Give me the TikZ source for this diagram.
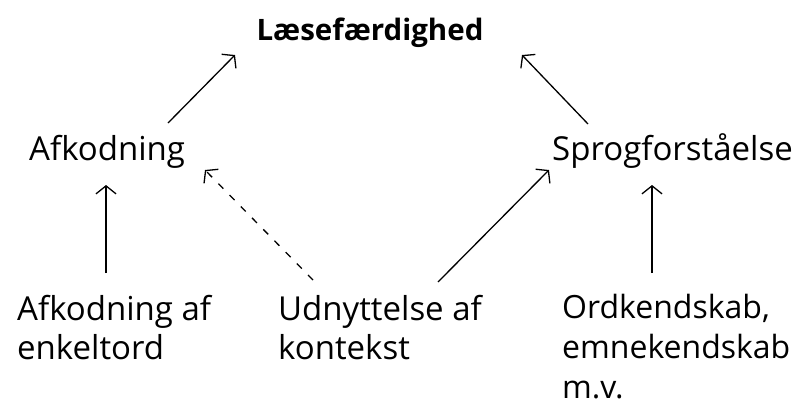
\documentclass[tikz,border=0pt]{standalone}
\usepackage{fontspec}
\setmainfont{Open Sans}
\usetikzlibrary{arrows.meta}
\begin{document}
\begin{tikzpicture}[x=1pt,y=-1pt,
  lbl/.style={anchor=base west,inner sep=0pt,font=\fontsize{33}{39}\selectfont,align=left},
  ttl/.style={anchor=base,inner sep=0pt,font=\fontsize{29.5}{34}\selectfont\bfseries},
  arr/.style={-{Straight Barb[length=8pt,width=20pt]},line width=1.3pt},
  darr/.style={arr,dash pattern=on 7pt off 9pt}]
\useasboundingbox (0,0) rectangle (796,407);
\fill[white] (0,0) rectangle (796,407);
\node[ttl] (top) at (370,40) {Læsefærdighed};
\node[lbl] (afk) at (29,160) {Afkodning};
\node[lbl] (spr) at (552,160) {Sprogforståelse};
\node[lbl] (enk) at (17,359) {Afkodning af\\enkeltord};
\node[lbl] (udn) at (278,359) {Udnyttelse af\\kontekst};
\node[lbl,font=\fontsize{32}{40}\selectfont] (ord) at (562,398) {Ordkendskab,\\emnekendskab\\m.v.};
\draw[arr] ([shift={(139,-37)}]afk.base west) -- ([shift={(-135,15)}]top.base);
\draw[arr] ([shift={(36,-36)}]spr.base west) -- ([shift={(152,15)}]top.base);
\draw[arr] ([shift={(89,-86)}]enk.base west) -- ([shift={(77,25)}]afk.base west);
\draw[darr] ([shift={(35,-79)}]udn.base west) -- ([shift={(176,10)}]afk.base west);
\draw[arr] ([shift={(160,-77)}]udn.base west) -- ([shift={(-3,10)}]spr.base west);
\draw[arr] ([shift={(90,-125)}]ord.base west) -- ([shift={(100,25)}]spr.base west);
\end{tikzpicture}
\end{document}
